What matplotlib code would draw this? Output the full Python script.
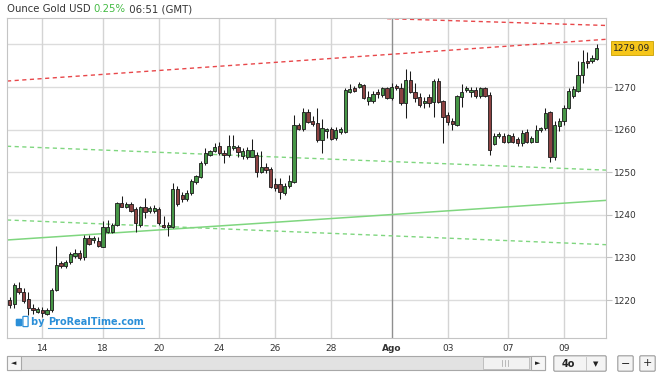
import numpy as np
import matplotlib
matplotlib.use('Agg')
import matplotlib.pyplot as plt
import matplotlib.transforms as mtransforms
from matplotlib.patches import Rectangle, FancyBboxPatch

# 4-hour candles (open, high, low, close)
opens = [1220.0,1219.1,1222.8,1221.9,1220.2,1218.1,1217.2,1217.7,1216.7,1217.7,
         1222.4,1228.7,1228.0,1228.9,1230.3,1231.0,1230.1,1234.6,1234.1,1233.9,
         1232.4,1236.0,1236.0,1237.6,1242.8,1241.8,1242.5,1241.4,1237.6,1241.8,
         1240.9,1241.0,1241.4,1237.6,1237.1,1237.1,1246.1,1244.7,1243.7,1245.1,
         1247.7,1248.9,1252.2,1254.0,1255.0,1256.2,1254.5,1254.0,1255.7,1255.9,
         1253.8,1253.6,1253.6,1254.0,1250.1,1251.2,1250.8,1247.2,1247.2,1245.1,
         1246.8,1247.7,1261.1,1260.1,1264.1,1262.0,1261.6,1257.6,1259.7,1260.1,
         1258.0,1259.4,1259.4,1268.8,1269.8,1270.0,1270.5,1266.7,1266.7,1268.8,
         1268.1,1269.8,1267.4,1270.0,1269.8,1266.2,1271.6,1268.8,1267.7,1266.2,
         1267.7,1266.5,1271.4,1266.7,1263.4,1262.0,1261.1,1267.7,1269.3,1268.8,
         1269.3,1267.9,1269.8,1268.1,1256.6,1258.5,1258.5,1257.1,1258.5,1257.8,
         1256.9,1259.4,1257.1,1257.1,1259.9,1260.4,1264.1,1253.6,1260.8,1262.0,
         1265.1,1267.9,1269.1,1272.8,1276.1,1276.1,1276.6]
highs = [1220.7,1224.0,1224.2,1222.8,1221.9,1219.1,1218.4,1218.4,1218.1,1222.8,
         1232.7,1229.2,1229.4,1231.3,1232.0,1231.7,1235.3,1235.3,1235.0,1234.8,
         1238.5,1238.8,1238.1,1243.0,1244.4,1243.0,1243.0,1241.8,1242.1,1243.9,
         1242.1,1242.3,1241.8,1239.7,1238.3,1247.5,1246.8,1245.4,1245.8,1248.4,
         1249.3,1252.6,1255.7,1255.2,1256.9,1257.1,1255.2,1258.7,1258.7,1256.4,
         1255.7,1255.9,1257.8,1254.7,1255.0,1252.2,1251.2,1248.6,1248.6,1247.5,
         1249.3,1263.4,1261.6,1265.1,1264.8,1263.2,1265.1,1262.5,1260.4,1260.6,
         1260.6,1260.6,1269.8,1270.7,1270.2,1271.2,1270.7,1269.1,1269.1,1269.5,
         1270.0,1270.0,1270.9,1270.7,1270.9,1274.2,1273.8,1270.9,1268.6,1267.7,
         1268.4,1271.9,1272.1,1266.9,1264.1,1262.7,1268.1,1270.7,1270.2,1270.0,
         1270.0,1270.0,1270.0,1268.8,1259.2,1259.4,1259.2,1259.0,1259.2,1258.3,
         1259.9,1260.1,1258.5,1261.1,1260.6,1265.1,1264.4,1262.0,1262.7,1265.8,
         1269.8,1270.2,1276.1,1278.7,1278.2,1277.5,1280.1]
lows = [1218.1,1218.1,1221.4,1219.3,1216.5,1216.7,1217.0,1216.0,1216.5,1217.2,
        1222.1,1227.5,1227.5,1228.5,1229.9,1229.4,1229.4,1232.9,1233.4,1232.4,
        1232.4,1235.7,1235.7,1237.4,1241.8,1241.6,1240.7,1236.0,1237.1,1239.3,
        1240.4,1240.4,1237.6,1236.9,1235.0,1236.9,1242.1,1243.0,1243.2,1244.7,
        1247.2,1248.6,1251.7,1253.8,1254.7,1254.0,1252.2,1253.6,1255.2,1253.6,
        1253.1,1253.1,1253.6,1248.9,1249.8,1249.8,1246.3,1245.6,1243.7,1244.7,
        1246.3,1247.5,1259.9,1259.7,1261.6,1260.8,1257.1,1254.5,1258.0,1257.6,
        1257.6,1259.0,1259.2,1268.6,1268.8,1269.8,1267.2,1265.8,1266.2,1267.4,
        1267.7,1267.2,1266.9,1269.3,1265.8,1262.7,1268.6,1266.5,1265.3,1265.1,
        1265.3,1263.0,1266.2,1256.9,1261.1,1259.9,1260.8,1265.3,1268.8,1267.7,
        1267.4,1267.4,1267.7,1254.0,1256.4,1258.0,1256.9,1256.9,1256.9,1256.2,
        1256.2,1256.9,1256.9,1257.1,1259.4,1259.9,1252.4,1252.9,1259.7,1261.1,
        1264.8,1267.4,1268.8,1270.9,1274.5,1275.6,1276.3]
closes = [1218.8,1223.5,1221.9,1219.8,1218.1,1217.7,1217.9,1217.0,1217.7,1222.4,
          1228.2,1228.0,1228.9,1230.8,1231.0,1229.9,1234.6,1233.2,1234.6,1232.7,
          1237.1,1237.1,1237.6,1242.8,1241.8,1242.5,1240.9,1238.1,1241.8,1240.7,
          1241.6,1241.5,1238.1,1237.1,1237.6,1246.1,1242.5,1243.7,1245.1,1247.9,
          1249.1,1252.2,1254.5,1255.0,1255.9,1254.5,1254.0,1256.2,1255.9,1254.7,
          1255.0,1255.2,1255.2,1250.1,1251.2,1250.5,1246.5,1246.3,1245.4,1246.8,
          1247.9,1261.1,1260.1,1264.1,1261.8,1261.3,1257.6,1260.4,1260.1,1257.8,
          1259.9,1260.1,1269.3,1269.5,1269.1,1270.7,1267.4,1267.7,1268.4,1268.4,
          1269.8,1267.4,1270.0,1269.8,1266.2,1271.6,1268.8,1267.4,1265.8,1266.7,
          1266.2,1271.4,1266.5,1263.0,1261.8,1261.3,1267.9,1268.8,1269.8,1269.3,
          1267.9,1269.8,1267.9,1255.2,1258.5,1259.0,1257.1,1258.7,1257.1,1256.9,
          1259.2,1257.1,1258.0,1259.9,1260.4,1263.9,1253.6,1261.1,1262.0,1265.1,
          1269.1,1269.5,1272.8,1275.9,1275.6,1276.8,1279.09]

tick_idx = [7, 20, 32, 45, 57, 69, 82, 94, 107, 119]
tick_lab = ['14', '18', '20', '24', '26', '28', 'Ago', '03', '07', '09']
price_ticks = [1220, 1230, 1240, 1250, 1260, 1270]
grid_prices = [1220, 1230, 1240, 1250, 1260, 1270, 1280]
last_price = 1279.09

# trend lines (candle index, price)
red_up_x, red_up_y = [81, 128], [1286.05, 1284.45]
red_lo_x, red_lo_y = [-0.6, 128], [1271.4, 1281.2]
grn_up_x, grn_up_y = [-0.6, 128], [1256.1, 1250.5]
grn_lo_x, grn_lo_y = [-0.6, 128], [1238.8, 1233.0]
grn_sol_x, grn_sol_y = [-0.6, 128], [1234.1, 1243.4]

W, H = 660, 378
fig = plt.figure(figsize=(W/100, H/100), dpi=100, facecolor='w')
ax = fig.add_axes([7/W, 40/H, 599/W, 320/H])
ax.set_xlim(-0.6, 128.0)
ax.set_ylim(1211.1, 1286.2)

# grid
for p in grid_prices:
    ax.axhline(p, color='#dcdcdc', lw=1.0, zorder=0)
for i, lab in zip(tick_idx, tick_lab):
    ax.axvline(i, color='#8f8f8f' if lab == 'Ago' else '#d4d4d4', lw=1.0, zorder=0)

# trend lines
ax.plot(red_up_x, red_up_y, color='#e8474a', lw=1.0, ls=(0, (3, 2.5)), zorder=1)
ax.plot(red_lo_x, red_lo_y, color='#e8474a', lw=1.0, ls=(0, (3, 2.5)), zorder=1)
ax.plot(grn_up_x, grn_up_y, color='#7fd67f', lw=1.0, ls=(0, (3, 2.5)), zorder=1)
ax.plot(grn_lo_x, grn_lo_y, color='#7fd67f', lw=1.0, ls=(0, (3, 2.5)), zorder=1)
ax.plot(grn_sol_x, grn_sol_y, color='#7fd67f', lw=1.1, zorder=1)

# candles
o = np.array(opens); h = np.array(highs); l = np.array(lows); c = np.array(closes)
x = np.arange(len(o))
up = c >= o
ax.vlines(x, l, h, color='#1a1a1a', lw=0.75, zorder=2)
bottom = np.minimum(o, c)
height = np.maximum(np.abs(c - o), 0.35)
ax.bar(x[up], height[up], 0.7, bottom=bottom[up], color='#469646', edgecolor='#1a1a1a', lw=0.6, zorder=3)
ax.bar(x[~up], height[~up], 0.7, bottom=bottom[~up], color='#8c4242', edgecolor='#1a1a1a', lw=0.6, zorder=3)

# axes styling
for s in ax.spines.values():
    s.set_color('#c4c4c4')
ax.yaxis.tick_right()
ax.set_yticks(price_ticks)
ax.set_yticklabels([str(p) for p in price_ticks])
ax.tick_params(axis='y', length=4, color='#c4c4c4', labelsize=6.5, labelcolor='#333333', pad=2)
ax.set_xticks(tick_idx)
ax.set_xticklabels(tick_lab)
ax.tick_params(axis='x', length=0, labelsize=6.5, labelcolor='#333333', pad=4)
for t in ax.get_xticklabels():
    if t.get_text() == 'Ago':
        t.set_fontweight('bold')

# last price box
trans = mtransforms.blended_transform_factory(ax.transAxes, ax.transData)
ax.text(1.012, last_price, '{:.2f}'.format(last_price), transform=trans, va='center', ha='left',
        fontsize=6.5, color='#222222',
        bbox=dict(boxstyle='square,pad=0.28', fc='#f6c61a', ec='#c8a000', lw=0.6))

# overlay for header, watermark and widgets (pixel coords)
ov = fig.add_axes([0, 0, 1, 1], facecolor='none')
ov.set_xlim(0, W)
ov.set_ylim(H, 0)
ov.axis('off')
fig.canvas.draw()
rend = fig.canvas.get_renderer()
inv = ov.transData.inverted()

def put(xp, yp, s, **kw):
    t = ov.text(xp, yp, s, va='center', ha='left', **kw)
    bb = t.get_window_extent(rend)
    return inv.transform((bb.x1, bb.y0))[0]

xp = put(7, 9, 'Ounce Gold USD ', fontsize=7.3, color='#333333')
xp = put(xp, 9, '0.25%', fontsize=7.3, color='#44bb44')
put(xp, 9, ' 06:51 (GMT)', fontsize=7.3, color='#333333')

# watermark
ov.add_patch(FancyBboxPatch((17, 320), 4, 5, boxstyle='round,pad=0.6', fc='#2b8fd8', ec='#2b8fd8'))
ov.add_patch(FancyBboxPatch((23.5, 317), 4, 9, boxstyle='round,pad=0.6', fc='w', ec='#2b8fd8', lw=0.9))
xp = put(31, 322, 'by ', fontsize=7.0, color='#2b8fd8', fontweight='bold')
xe = put(xp, 322, 'ProRealTime.com', fontsize=7.0, color='#2b8fd8', fontweight='bold')
ov.plot([xp, xe], [327.5, 327.5], color='#2b8fd8', lw=0.8)

# scrollbar
ov.add_patch(Rectangle((7, 356), 538, 14, fc='#e2e2e2', ec='#a8a8a8', lw=0.8))
ov.add_patch(Rectangle((7, 356), 14, 14, fc='#f6f6f6', ec='#a8a8a8', lw=0.8))
ov.add_patch(Rectangle((531, 356), 14, 14, fc='#f6f6f6', ec='#a8a8a8', lw=0.8))
ov.add_patch(Rectangle((483, 357), 46, 12, fc='#f2f2f2', ec='#b8b8b8', lw=0.6))
for gx in [502, 505, 508]:
    ov.plot([gx, gx], [360, 366], color='#b0b0b0', lw=0.6)
ov.text(14, 363, '\u25c4', fontsize=5, ha='center', va='center', color='#222222')
ov.text(538, 363, '\u25ba', fontsize=5, ha='center', va='center', color='#222222')

# interval dropdown and zoom buttons
ov.add_patch(FancyBboxPatch((555, 357), 50, 13, boxstyle='round,pad=1.2', fc='#f4f4f4', ec='#9a9a9a', lw=0.8))
ov.plot([586, 586], [357, 370], color='#c0c0c0', lw=0.6)
ov.text(568, 364, '4o', fontsize=7, fontweight='bold', ha='center', va='center', color='#222222')
ov.text(596, 364, '\u25bc', fontsize=5, ha='center', va='center', color='#222222')
ov.add_patch(FancyBboxPatch((619, 357), 13, 13, boxstyle='round,pad=1.2', fc='#f4f4f4', ec='#9a9a9a', lw=0.8))
ov.add_patch(FancyBboxPatch((641, 357), 13, 13, boxstyle='round,pad=1.2', fc='#f4f4f4', ec='#9a9a9a', lw=0.8))
ov.text(625.5, 363.5, '\u2212', fontsize=8, ha='center', va='center', color='#222222')
ov.text(647.5, 363.5, '+', fontsize=8, ha='center', va='center', color='#222222')

fig.savefig('out.png', dpi=100, facecolor='w')
